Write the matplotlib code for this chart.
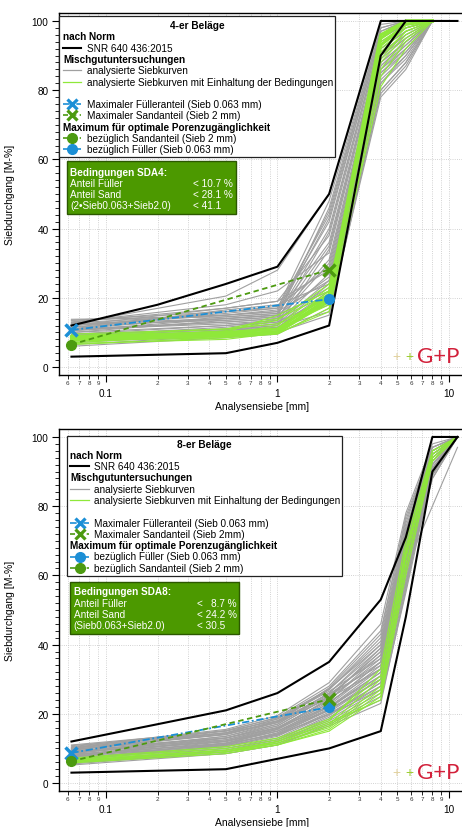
import matplotlib.pyplot as plt
from matplotlib.lines import Line2D
from matplotlib.patches import Rectangle
from matplotlib.ticker import FixedLocator, FixedFormatter

plt.rcParams['font.family'] = ['Liberation Sans', 'DejaVu Sans']

W, H = 462, 828

# ---------------- 4-er Beläge ----------------
sieves4 = [0.063, 0.5, 1, 2, 4, 5.6, 8]
gray4 = [
    [13.5, 16.0, 17.0, 48, 98, 100, 100],
    [12.8, 15.0, 16.0, 45, 97, 100, 100],
    [12.0, 15.0, 16.5, 42, 96, 99, 100],
    [11.5, 14.0, 15.0, 40, 95, 99, 100],
    [13.0, 17.0, 19.0, 38, 94, 98, 100],
    [11.0, 14.5, 15.5, 36, 93, 98, 100],
    [10.5, 13.0, 14.0, 35, 92, 97, 100],
    [12.5, 20.5, 28.0, 50, 99, 100, 100],
    [13.0, 18.0, 22.0, 33, 92, 97, 100],
    [10.0, 13.5, 14.5, 31, 91, 96, 100],
    [9.5, 12.0, 13.5, 30, 90, 96, 100],
    [11.5, 16.0, 17.5, 29, 90, 95, 100],
    [12.0, 17.0, 19.0, 28, 89, 95, 100],
    [9.0, 11.5, 13.0, 27, 88, 94, 100],
    [10.5, 14.0, 15.0, 26, 88, 94, 100],
    [8.5, 11.0, 12.5, 25, 87, 93, 100],
    [13.5, 15.0, 16.0, 25, 86, 93, 100],
    [7.5, 10.5, 12.0, 24, 86, 92, 100],
    [11.0, 13.0, 14.0, 23, 85, 92, 100],
    [8.0, 10.0, 11.5, 22, 84, 91, 100],
    [12.5, 14.0, 15.0, 22, 85, 91, 100],
    [7.0, 9.5, 11.0, 21, 83, 90, 100],
    [10.0, 12.0, 13.0, 20, 82, 90, 100],
    [6.5, 9.0, 10.5, 19, 82, 89, 100],
    [9.5, 11.0, 12.5, 18, 80, 88, 100],
    [6.0, 8.5, 9.5, 17, 79, 87, 100],
    [8.5, 10.5, 11.5, 16, 78, 86, 100],
    [7.5, 9.0, 10.0, 15, 80, 88, 100],
    [12.0, 15.5, 17.0, 44, 97, 100, 100],
    [11.0, 16.5, 18.0, 24, 87, 94, 100],
    [12.2, 13.5, 14.5, 46, 98, 100, 100],
    [10.8, 12.5, 13.5, 39, 95, 99, 100],
    [13.8, 14.5, 15.5, 43, 96, 100, 100],
    [9.2, 10.8, 12.0, 34, 93, 98, 100],
]
green4 = [
    [8.5, 9.5, 10.0, 20, 95, 100, 100],
    [8.0, 9.0, 10.0, 19, 93, 99, 100],
    [8.8, 10.0, 11.0, 21, 96, 100, 100],
    [7.5, 9.0, 10.5, 22, 92, 98, 100],
    [9.0, 11.0, 12.5, 20, 94, 99, 100],
    [7.0, 9.5, 12.0, 23, 90, 97, 100],
    [8.0, 10.5, 13.5, 24, 88, 96, 100],
    [6.5, 8.5, 11.0, 18, 86, 95, 100],
    [9.5, 11.0, 14.0, 21, 89, 97, 100],
    [7.5, 8.5, 9.5, 17, 81, 92, 100],
    [8.5, 10.0, 15.0, 22, 91, 98, 100],
    [6.8, 8.0, 9.8, 16, 84, 94, 100],
]
green4_thick = [0, 1, 2]
upper4_x = [0.063, 0.2, 0.5, 1, 2, 4, 11.2]
upper4_y = [12, 18, 24, 29, 50, 100, 100]
lower4_x = [0.063, 0.5, 1, 2, 4, 5.6]
lower4_y = [3, 4, 7, 12, 90, 100]
# limit values: Füller max / Sand max / optimum points
fmax4, smax4 = 10.7, 28.1
fopt4, sopt4 = 19.6, 6.5

# ---------------- 8-er Beläge ----------------
sieves8 = [0.063, 0.5, 1, 2, 4, 5.6, 8, 11.2]
gray8 = [
    [10.5, 15.5, 19.5, 29.0, 46, 78, 98, 100],
    [10.0, 15.0, 19.0, 28.0, 44, 76, 97, 100],
    [10.8, 14.5, 18.5, 27.0, 42, 75, 97, 100],
    [9.5, 14.0, 18.0, 27.0, 41, 74, 96, 100],
    [10.2, 14.5, 17.5, 26.0, 40, 73, 96, 100],
    [9.0, 13.5, 17.0, 26.0, 39, 72, 95, 100],
    [9.8, 13.0, 16.5, 25.0, 38, 71, 95, 100],
    [8.5, 13.0, 16.5, 25.0, 38, 70, 94, 100],
    [9.2, 12.5, 16.0, 24.0, 37, 70, 94, 100],
    [8.0, 12.5, 16.0, 24.0, 36, 69, 93, 100],
    [8.8, 12.0, 15.5, 23.0, 35, 68, 93, 100],
    [7.5, 12.0, 15.5, 23.0, 35, 67, 92, 100],
    [8.3, 11.5, 15.0, 22.5, 34, 66, 92, 100],
    [7.0, 11.5, 15.0, 22.0, 33, 66, 91, 100],
    [7.8, 11.0, 14.5, 22.0, 32, 65, 91, 100],
    [6.5, 11.0, 14.5, 21.5, 32, 64, 90, 100],
    [7.3, 10.5, 14.0, 21.0, 31, 63, 90, 100],
    [6.8, 10.5, 13.5, 20.5, 30, 62, 89, 100],
    [6.2, 10.0, 13.0, 20.0, 29, 61, 89, 100],
    [7.0, 10.0, 12.5, 19.5, 29, 60, 88, 100],
    [6.0, 9.5, 12.5, 19.0, 28, 59, 88, 100],
    [5.8, 9.5, 12.0, 18.5, 27, 58, 90, 100],
    [6.5, 9.0, 12.0, 18.0, 26, 57, 91, 100],
    [5.5, 9.0, 11.5, 17.5, 25, 56, 92, 100],
    [6.0, 8.5, 11.0, 17.0, 24, 55, 90, 100],
    [5.2, 8.5, 11.0, 16.5, 23, 56, 93, 100],
    [9.5, 14.5, 18.5, 26.5, 36, 68, 95, 100],
    [10.0, 14.0, 17.5, 24.5, 33, 64, 93, 100],
    [8.5, 13.5, 17.5, 27.5, 43, 77, 97, 100],
    [9.0, 12.0, 15.0, 21.0, 30, 61, 91, 100],
    [8.0, 11.5, 14.0, 20.0, 28, 58, 89, 100],
    [7.5, 13.0, 17.0, 25.5, 37, 69, 95, 100],
    [11.0, 15.0, 18.0, 25.0, 35, 67, 94, 100],
    [6.8, 11.5, 15.5, 24.5, 39, 72, 96, 100],
    [9.3, 13.0, 16.0, 22.0, 31, 62, 92, 100],
    [7.2, 10.8, 13.8, 19.8, 27, 62, 80, 97],
    [9.7, 14.2, 17.8, 25.8, 34, 66, 94, 100],
    [8.2, 12.2, 15.8, 23.5, 33, 65, 93, 100],
    [7.6, 11.2, 14.2, 21.2, 30, 61, 91, 100],
    [10.3, 15.2, 18.8, 27.2, 40, 73, 96, 100],
]
green8 = [
    [7.0, 10.0, 12.5, 18.0, 33, 70, 96, 100],
    [6.5, 9.5, 12.0, 17.0, 30, 68, 95, 100],
    [6.8, 9.5, 11.5, 16.5, 28, 66, 95, 100],
    [6.2, 9.0, 11.5, 16.0, 27, 65, 94, 100],
    [6.0, 9.0, 11.0, 15.5, 26, 63, 93, 100],
    [5.8, 8.5, 11.0, 15.0, 25, 62, 94, 100],
    [6.4, 9.0, 12.0, 17.5, 24, 60, 93, 100],
    [7.2, 10.5, 13.0, 18.5, 31, 67, 96, 100],
]
green8_thick = []
upper8_x = [0.063, 0.2, 0.5, 1, 2, 4, 5.6, 8, 11.2]
upper8_y = [12, 17, 21, 26, 35, 53, 71, 100, 100]
lower8_x = [0.063, 0.5, 1, 2, 4, 5.6, 8, 11.2]
lower8_y = [3, 4, 7, 10, 15, 48, 90, 100]
fmax8, smax8 = 8.7, 24.2
fopt8, sopt8 = 21.9, 6.3

C_GRAY = '#a0a0a0'
C_LIME = '#8fe83a'
C_BLUE = '#1c8fd6'
C_GREEN = '#4c9a10'
C_BOX = '#4c9900'
BLUE_LS = (0, (4, 1.5, 1, 1.5))
GREEN_LS = (0, (3, 2))


def fx(x):
    return x / W


def fy(y):
    return 1 - y / H


def draw_panel(ax, sieves, gray, green, thick, ux, uy, lx, ly, fmax, smax, fopt, sopt):
    for row in gray:
        ax.plot(sieves, row, color=C_GRAY, lw=0.8, zorder=2)
    for i, row in enumerate(green):
        ax.plot(sieves, row, color=C_LIME, lw=2.2 if i in thick else 0.8, zorder=3)
    ax.plot(ux, uy, color='black', lw=1.5, zorder=4)
    ax.plot(lx, ly, color='black', lw=1.5, zorder=4)
    # Maximaler Fülleranteil -> Optimum bzgl. Füller
    ax.plot([0.063, 2], [fmax, fopt], color=C_BLUE, ls=BLUE_LS, lw=1.3, zorder=5)
    ax.plot([0.063], [fmax], color=C_BLUE, marker='x', ms=8, mew=2.5, ls='none', zorder=6)
    ax.plot([2], [fopt], color=C_BLUE, marker='o', ms=7, ls='none', zorder=6)
    # Optimum bzgl. Sand -> Maximaler Sandanteil
    ax.plot([0.063, 2], [sopt, smax], color=C_GREEN, ls=GREEN_LS, lw=1.3, zorder=5)
    ax.plot([0.063], [sopt], color=C_GREEN, marker='o', ms=7, ls='none', zorder=6)
    ax.plot([2], [smax], color=C_GREEN, marker='x', ms=8, mew=2.5, ls='none', zorder=6)

    ax.set_xscale('log')
    ax.set_xlim(0.0533, 11.9)
    ax.set_ylim(-2.3, 102.3)
    ax.spines['right'].set_visible(False)
    for s in ('left', 'bottom', 'top'):
        ax.spines[s].set_linewidth(1.0)

    minors = [m * 10.0 ** e for e in (-2, -1, 0) for m in range(2, 10)]
    minors = [v for v in minors if v > 0.0533]
    ax.xaxis.set_major_locator(FixedLocator([0.1, 1, 10]))
    ax.xaxis.set_major_formatter(FixedFormatter(['0.1', '1', '10']))
    ax.xaxis.set_minor_locator(FixedLocator(minors))
    ax.xaxis.set_minor_formatter(FixedFormatter([('%.0e' % v)[0] for v in minors]))
    ax.tick_params(axis='x', which='major', length=5, width=0.8, labelsize=7.2, pad=4.5)
    ax.tick_params(axis='x', which='minor', length=2.8, width=0.6, labelsize=4.5, pad=0.8,
                   labelcolor='#333333')
    ax.set_yticks([0, 20, 40, 60, 80, 100])
    ax.set_yticks(range(0, 101, 2), minor=True)
    ax.tick_params(axis='y', which='major', length=5, width=0.8, labelsize=7.2, pad=2.5)
    ax.tick_params(axis='y', which='minor', length=2.8, width=0.6)
    ax.grid(which='both', axis='x', ls=':', color='#c4c4c4', lw=0.6)
    ax.grid(which='major', axis='y', ls=':', color='#c4c4c4', lw=0.6)
    ax.set_axisbelow(True)

    ax.set_ylabel('Siebdurchgang [M-%]', fontsize=7.5)
    ax.yaxis.set_label_coords(-0.109, 0.5)
    ax.set_xlabel('Analysensiebe [mm]', fontsize=7.5, va='center')
    ax.xaxis.set_label_coords(0.504, -0.086)

    # G+P logo
    ax.text(0.838, 0.053, '+', transform=ax.transAxes, color='#e3d3a0', fontsize=10,
            ha='center', va='center')
    ax.text(0.870, 0.053, '+', transform=ax.transAxes, color='#9ccc30', fontsize=10,
            ha='center', va='center')
    ax.text(0.888, 0.053, 'G+P', transform=ax.transAxes, color='#d2203a', fontsize=16,
            ha='left', va='center', family=['Lato', 'DejaVu Sans'])


def draw_legend(fig, box, title, rows, hx0, hx1, tx, y0, dy):
    x0, yt, x1, yb = box
    fig.add_artist(Rectangle((fx(x0), fy(yb)), fx(x1 - x0), (yb - yt) / H,
                             transform=fig.transFigure, facecolor='white',
                             edgecolor='#222222', lw=0.9, zorder=10))
    fig.text(fx((x0 + x1) / 2), fy(y0), title, fontsize=7.3, fontweight='bold',
             ha='center', va='center', zorder=11)
    for i, (kind, text) in enumerate(rows):
        y = y0 + dy * (i + 1)
        if kind == 'gap':
            continue
        if kind == 'head':
            fig.text(fx(hx0), fy(y), text, fontsize=7.2, fontweight='bold',
                     ha='left', va='center', zorder=11)
            continue
        sty = {
            'norm': dict(color='black', lw=1.5),
            'gray': dict(color=C_GRAY, lw=0.9),
            'green': dict(color=C_LIME, lw=0.9),
            'fmax': dict(color=C_BLUE, ls=BLUE_LS, lw=1.2, marker='x', ms=7, mew=2.3),
            'smax': dict(color=C_GREEN, ls=GREEN_LS, lw=1.2, marker='x', ms=7, mew=2.3),
            'fopt': dict(color=C_BLUE, ls=BLUE_LS, lw=1.2, marker='o', ms=7),
            'sopt': dict(color=C_GREEN, ls=GREEN_LS, lw=1.2, marker='o', ms=7),
        }[kind]
        marker = sty.pop('marker', None)
        ms = sty.pop('ms', 0)
        mew = sty.pop('mew', 1)
        fig.add_artist(Line2D([fx(hx0), fx(hx1)], [fy(y), fy(y)], transform=fig.transFigure,
                              zorder=11, **sty))
        if marker:
            fig.add_artist(Line2D([fx((hx0 + hx1) / 2)], [fy(y)], transform=fig.transFigure,
                                  marker=marker, ms=ms, mew=mew, color=sty['color'],
                                  ls='none', zorder=12))
        fig.text(fx(tx), fy(y), text, fontsize=7.2, ha='left', va='center', zorder=11)


def draw_conditions(fig, box, title, labels, values, tx, vx, y0, dy):
    x0, yt, x1, yb = box
    fig.add_artist(Rectangle((fx(x0), fy(yb)), fx(x1 - x0), (yb - yt) / H,
                             transform=fig.transFigure, facecolor=C_BOX,
                             edgecolor='#2c5800', lw=1.0, zorder=10))
    fig.text(fx(tx), fy(y0), title, fontsize=7.2, fontweight='bold', color='white',
             ha='left', va='center', zorder=11)
    for i, (lab, val) in enumerate(zip(labels, values)):
        y = y0 + dy * (i + 1)
        fig.text(fx(tx), fy(y), lab, fontsize=7.2, color='white', ha='left', va='center', zorder=11)
        fig.text(fx(vx), fy(y), val, fontsize=7.2, color='white', ha='left', va='center', zorder=11)


fig = plt.figure(figsize=(W / 100, H / 100), dpi=100)
ax1 = fig.add_axes([59 / W, 1 - 376 / H, 403 / W, 362 / H])
ax2 = fig.add_axes([59 / W, 1 - 792 / H, 403 / W, 362 / H])

draw_panel(ax1, sieves4, gray4, green4, green4_thick, upper4_x, upper4_y, lower4_x, lower4_y,
           fmax4, smax4, fopt4, sopt4)
draw_panel(ax2, sieves8, gray8, green8, green8_thick, upper8_x, upper8_y, lower8_x, lower8_y,
           fmax8, smax8, fopt8, sopt8)

rows4 = [
    ('head', 'nach Norm'),
    ('norm', 'SNR 640 436:2015'),
    ('head', 'Mischgutuntersuchungen'),
    ('gray', 'analysierte Siebkurven'),
    ('green', 'analysierte Siebkurven mit Einhaltung der Bedingungen'),
    ('gap', ''),
    ('fmax', 'Maximaler Fülleranteil (Sieb 0.063 mm)'),
    ('smax', 'Maximaler Sandanteil (Sieb 2 mm)'),
    ('head', 'Maximum für optimale Porenzugänglichkeit'),
    ('sopt', 'bezüglich Sandanteil (Sieb 2 mm)'),
    ('fopt', 'bezüglich Füller (Sieb 0.063 mm)'),
]
rows8 = [
    ('head', 'nach Norm'),
    ('norm', 'SNR 640 436:2015'),
    ('head', 'Mischgutuntersuchungen'),
    ('gray', 'analysierte Siebkurven'),
    ('green', 'analysierte Siebkurven mit Einhaltung der Bedingungen'),
    ('gap', ''),
    ('fmax', 'Maximaler Fülleranteil (Sieb 0.063 mm)'),
    ('smax', 'Maximaler Sandanteil (Sieb 2mm)'),
    ('head', 'Maximum für optimale Porenzugänglichkeit'),
    ('fopt', 'bezüglich Füller (Sieb 0.063 mm)'),
    ('sopt', 'bezüglich Sandanteil (Sieb 2 mm)'),
]
draw_legend(fig, (59, 17, 335, 158), '4-er Beläge', rows4, 63, 81, 87, 26, 11.3)
draw_legend(fig, (67, 437, 342, 577), '8-er Beläge', rows8, 70, 89, 93.5, 444.5, 11.3)

draw_conditions(fig, (66.7, 162, 236, 215), 'Bedingungen SDA4:',
                ['Anteil Füller', 'Anteil Sand', '(2•Sieb0.063+Sieb2.0)'],
                ['< 10.7 %', '< 28.1 %', '< 41.1'], 70.5, 193, 172.5, 11.2)
draw_conditions(fig, (70, 583, 239, 635), 'Bedingungen SDA8:',
                ['Anteil Füller', 'Anteil Sand', '(Sieb0.063+Sieb2.0)'],
                ['<   8.7 %', '< 24.2 %', '< 30.5'], 73.5, 197, 592.5, 11.2)

fig.savefig('out.png', dpi=100)
